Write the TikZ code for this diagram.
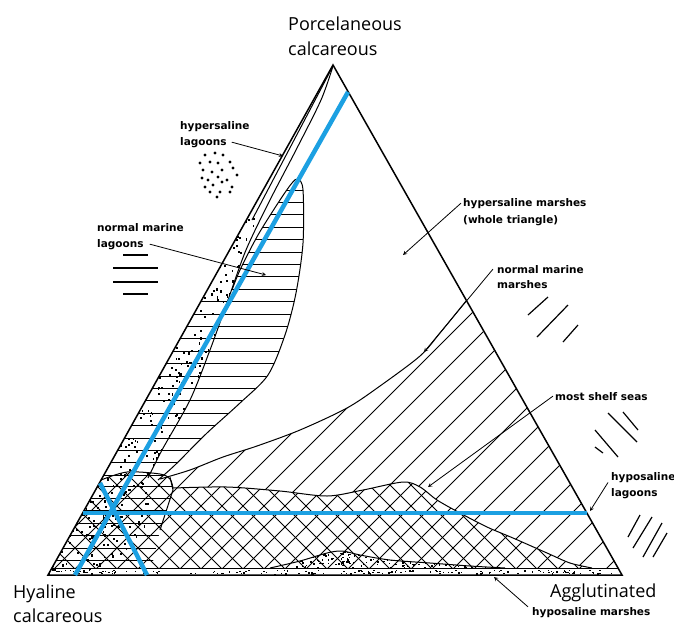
\documentclass[tikz,border=0pt]{standalone}
\usepackage{fontspec}
\setmainfont{Open Sans}
\newfontfamily\plotfont{DejaVu Sans}
\definecolor{guideblue}{RGB}{28,160,226}

% boundaries of the fields, in picture pixels
\newcommand{\marshtop}{plot[smooth] coordinates {(466,301) (440,333) (420,356) (380,386) (347,408) (300,430) (257,446) (223,457) (190,470) (160,479)}}
\newcommand{\shelfleft}{plot[smooth] coordinates {(101,480) (127,472) (160,474) (170,479) (173,488)}}
\newcommand{\shelfright}{-- plot[smooth] coordinates {(173,488) (227,487) (280,491) (327,496) (363,490) (403,482) (420,487) (437,500) (460,513) (487,527) (513,538) (547,553) (570,563) (592,568)}}
\newcommand{\lagoonedge}{plot[smooth] coordinates {(232,290) (240,270) (258,235) (280,200) (292,183) (298,179) (303,190) (303,243) (296,293) (285,335) (268,375) (240,403) (207,433) (175,465) (158,480)}}
\newcommand{\bandedge}{plot[smooth] coordinates {(333,66) (321,100) (296,150) (270,200) (246,250) (228,300) (210,350) (190,400) (162,450) (148,478)}}
\newcommand{\bumpedge}{plot[smooth] coordinates {(270,568) (300,561) (327,553) (342,551) (360,555) (390,560) (430,563) (470,566) (505,568)}}

\tikzset{
  edge/.style={line width=1.5pt},
  outline/.style={line width=1pt},
  hatch/.style={line width=0.9pt},
  pointer/.style={->, >=stealth, line width=0.8pt},
  guide/.style={guideblue, line width=4.5pt},
  apex/.style={font=\fontsize{18}{21}\selectfont, inner sep=0, anchor=base west},
  lbl/.style={font=\plotfont\bfseries\fontsize{10.5}{12}\selectfont, inner sep=0, anchor=base west},
}

\begin{document}
\begin{tikzpicture}[x=1pt,y=-1pt]
\useasboundingbox[fill=white] (0,0) rectangle (674,625);

\coordinate (T) at (333,65);
\coordinate (L) at (48,575);
\coordinate (R) at (622,575);

% hypersaline lagoons, stippled band
\begin{scope}
\clip \bandedge -- (152,520) -- (105,575) -- (48,575) -- cycle;
\pgfmathsetseed{7}
\foreach \i in {1,...,1500}{
  \pgfmathsetmacro\dx{48+290*rnd}
  \pgfmathsetmacro\dy{215+360*rnd}
  \fill (\dx,\dy) rectangle ++(1.8,2.2);
}
\end{scope}

% normal marine lagoons
\begin{scope}
\clip \lagoonedge -- (101,480) -- (207,290) -- cycle;
\foreach \h in {190,202.4,...,480}
  \draw[hatch] (90,\h) -- (310,\h);
\end{scope}
\begin{scope}
\clip (48,575) -- (101,480) -- (127,472) -- (170,477) -- (173,490) -- (160,530) -- (150,575) -- cycle;
\foreach \h in {486,498.4,...,570}
  \draw[hatch] (40,\h) -- (180,\h);
\end{scope}

% normal marine marshes
\begin{scope}
\clip \marshtop \shelfright -- (618,568) -- cycle;
\foreach \k in {-120,-90,...,630}
  \draw[hatch] (\k,575) -- ++(300,-300);
\end{scope}

% shelf seas
\begin{scope}
\clip \shelfleft \shelfright -- (52,568) -- cycle;
\foreach \k in {-120,-99,...,620}
  \draw[hatch] (\k,575) -- ++(120,-120);
\foreach \k in {60,81,...,760}
  \draw[hatch] (\k,575) -- ++(-120,-120);
\end{scope}

% hyposaline marshes
\begin{scope}
\clip \bumpedge -- cycle;
\pgfmathsetseed{11}
\foreach \i in {1,...,260}{
  \pgfmathsetmacro\tx{270+235*rnd}
  \pgfmathsetmacro\ty{550+18*rnd}
  \fill (\tx,\ty) rectangle ++(1.5,1.5);
}
\end{scope}
\pgfmathsetseed{3}
\foreach \i in {1,...,150}{
  \pgfmathsetmacro\tx{55+560*rnd}
  \pgfmathsetmacro\ty{569.5+4*rnd}
  \fill (\tx,\ty) rectangle ++(1.6,1.2);
}

% outlines
\draw[outline] \bandedge;
\draw[outline] (333,66) -- (252,220);
\draw[outline] \lagoonedge;
\draw[outline] \marshtop;
\draw[outline] \shelfleft;
\draw[outline] (173,488) \shelfright;
\draw[outline] (170,477) -- (173,490) -- (160,530);
\draw[outline] \bumpedge;
\draw[outline] (52,568) -- (618,568);
\draw[edge] (T) -- (R) -- (L) -- cycle;

% guide lines
\draw[guide] (75,575) -- (348,92);
\draw[guide] (100,483) -- (147,575);
\draw[guide] (83,513) -- (587,513);

% apex labels
\node[apex] (porc1) at (288,30) {Porcelaneous};
\node[apex] (porc2) at (288,55) {calcareous};
\node[apex] (hyal1) at (13,598) {Hyaline};
\node[apex] (hyal2) at (13,622) {calcareous};
\node[apex] (aggl) at (550,597) {Agglutinated};

% field labels
\node[lbl] (hlA) at (180,129) {hypersaline};
\node[lbl] (hlB) at (180,145) {lagoons};
\node[lbl] (nlA) at (97,231) {normal marine};
\node[lbl] (nlB) at (97,247) {lagoons};
\node[lbl] (hmA) at (463,206) {hypersaline marshes};
\node[lbl] (hmB) at (463,223) {(whole triangle)};
\node[lbl] (nmA) at (497,273) {normal marine};
\node[lbl] (nmB) at (497,288) {marshes};
\node[lbl] (ss) at (555,400) {most shelf seas};
\node[lbl] (ylA) at (611,480) {hyposaline};
\node[lbl] (ylB) at (611,496) {lagoons};
\node[lbl] (ym) at (532,615) {hyposaline marshes};

\coordinate (hlTip) at (283,156);
\coordinate (nlTip) at (266,275);
\coordinate (hmTip) at (403,255);
\coordinate (nmTip) at (424,352);
\coordinate (ssTip) at (428,487);
\coordinate (ylTip) at (590,511);
\coordinate (ymTip) at (494,577);

\draw[pointer] ([xshift=5pt]hlB.east) -- (hlTip);
\draw[pointer] ([xshift=6pt]nlB.east) -- (nlTip);
\draw[pointer] ([xshift=-2pt]hmA.west) -- (hmTip);
\draw[pointer] ([xshift=-4pt]nmA.west) -- (nmTip);
\draw[pointer] ([xshift=-2pt]ss.west) -- (ssTip);
\draw[pointer] ([xshift=-3pt]ylA.south west) -- (ylTip);
\draw[pointer] ([xshift=-4pt]ym.north west) -- (ymTip);

% legend marks
\foreach \p in {(205,155),(215,153),(223,155),(200,163),(210,162),(218,163),(230,162),(203,170),(212,172),(222,170),(233,168),(202,178),(208,180),(218,177),(227,180),(237,175),(205,187),(213,185),(222,182),(232,187),(210,192),(220,192),(230,192),(217,197)}
  \fill \p circle (1.6);
\draw[line width=1.2pt] (123,255) -- (148,255);
\draw[line width=1.2pt] (113,268) -- (158,268);
\draw[line width=1.2pt] (113,282) -- (158,282);
\draw[line width=1.2pt] (123,294) -- (148,294);
\draw[line width=1.2pt] (528,315) -- (548,297);
\draw[line width=1.2pt] (537,337) -- (568,305);
\draw[line width=1.2pt] (563,342) -- (578,325);
\draw[line width=1.2pt] (608,413) -- (637,442);
\draw[line width=1.2pt] (595,430) -- (618,457);
\draw[line width=1.2pt] (623,412) -- (638,430);
\draw[line width=1.2pt] (595,447) -- (603,453);
\draw[line width=1.2pt] (628,537) -- (640,515);
\draw[line width=1.2pt] (633,548) -- (652,517);
\draw[line width=1.2pt] (643,557) -- (662,523);
\draw[line width=1.2pt] (653,557) -- (667,533);
\end{tikzpicture}
\end{document}
